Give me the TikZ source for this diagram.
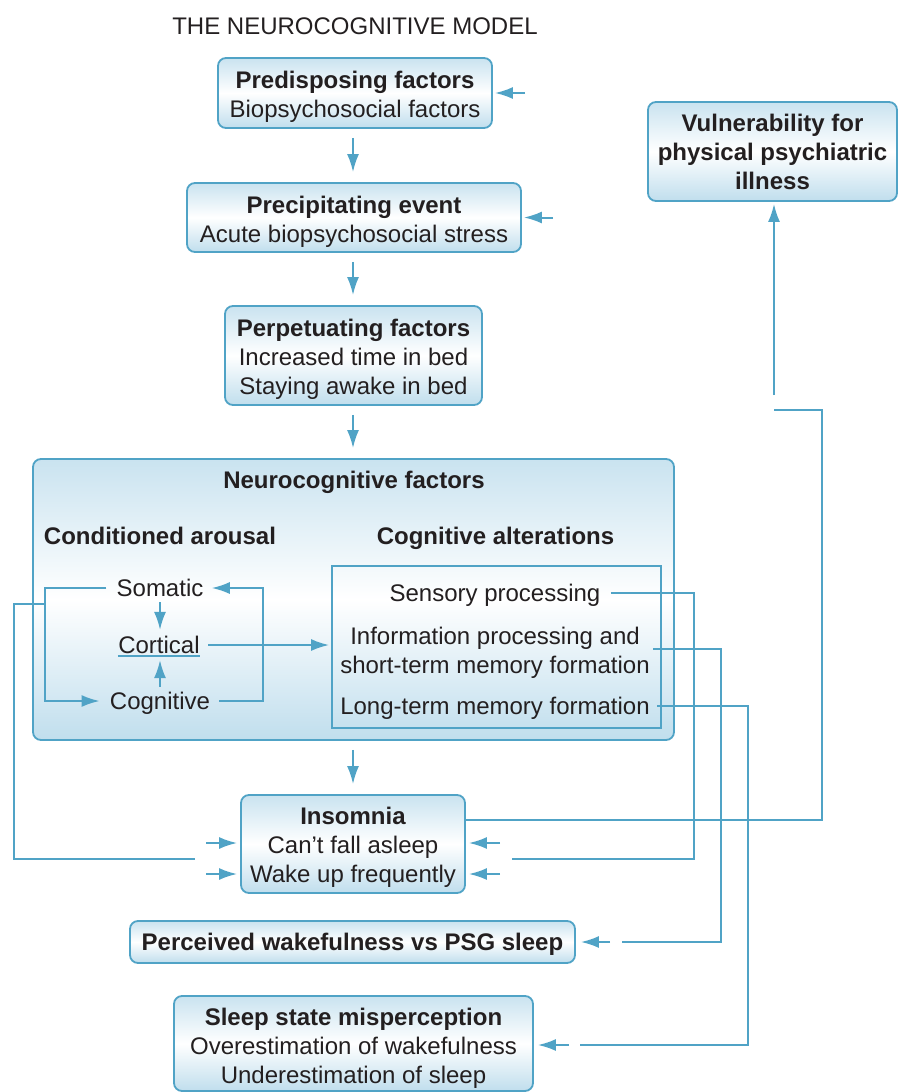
\documentclass[tikz,border=0pt]{standalone}
\usepackage{fontspec}
\setmainfont{Liberation Sans}
\usetikzlibrary{arrows.meta,positioning}
\definecolor{lineblue}{RGB}{80,163,198}
\definecolor{shadeblue}{RGB}{192,222,237}
\definecolor{ink}{RGB}{35,31,32}
\newcommand{\headstrut}[1][12.8pt]{\rule{0pt}{#1}}
\tikzset{
  box/.style={draw=lineblue, line width=0.9pt, rounded corners=4pt,
    top color=shadeblue!85, bottom color=shadeblue, middle color=white,
    align=center, inner sep=0pt},
  conn/.style={draw=lineblue, line width=1pt},
  arr/.style={conn, -{Latex[length=9pt,width=6pt]}},
  down/.style={arr, shorten <=4.5pt, shorten >=5pt},
  lbl/.style={inner sep=0pt, text height=9.5pt, text depth=1.2pt},
}
\begin{document}
\begin{tikzpicture}[x=0.5pt,y=-0.5pt,
  every node/.append style={font=\fontsize{12}{14.5}\selectfont, text=ink}]
\useasboundingbox (0,0) rectangle (898,1092);
\node (title) at (355,26) {THE NEUROCOGNITIVE MODEL};
% main chain
\node[box, minimum width=137pt, minimum height=35pt] (pre) at (355,93)
  {\headstrut\textbf{Predisposing factors}\\Biopsychosocial factors};
\node[box, minimum width=167pt, minimum height=34.5pt] (prec) at (354,217.5)
  {\headstrut\textbf{Precipitating event}\\Acute biopsychosocial stress};
\node[box, minimum width=128.5pt, minimum height=49.5pt] (perp) at (353.5,355.5)
  {\headstrut\textbf{Perpetuating factors}\\Increased time in bed\\Staying awake in bed};
\node[box, minimum width=320.5pt, minimum height=140.5pt] (neuro) at (353.5,599.5) {};
\node[box, minimum width=112pt, minimum height=49pt] (ins) at (353,844)
  {\headstrut[11.8pt]\textbf{Insomnia}\\Can’t fall asleep\\Wake up frequently};
\node[box, minimum width=222.5pt, minimum height=21pt] (perc) at (352.5,942)
  {\headstrut[10.8pt]\textbf{Perceived wakefulness vs PSG sleep}};
\node[box, minimum width=179.5pt, minimum height=47.5pt] (mis) at (353.5,1043.5)
  {\headstrut[13.8pt]\textbf{Sleep state misperception}\\Overestimation of wakefulness\\Underestimation of sleep};
\node[box, minimum width=124.5pt, minimum height=49.5pt] (vul) at (772.5,151.5)
  {\textbf{Vulnerability for}\\\textbf{physical psychiatric}\\\textbf{illness}};
% inside the neurocognitive box
\node[lbl] (neurot) at (354,480) {\textbf{Neurocognitive factors}};
\node[lbl] (arous) at (160,536) {\textbf{Conditioned arousal}};
\node[lbl] (alter) at (495.5,536) {\textbf{Cognitive alterations}};
\node[draw=lineblue, line width=0.9pt, minimum width=164.5pt, minimum height=81pt,
  inner sep=0pt] (alt) at (496.5,647) {};
\node[lbl] (som) at (160,588) {Somatic};
\node[lbl] (cort) at (159,645) {Cortical};
\node[lbl] (cog) at (160,701) {Cognitive};
\node[lbl] (sens) at (495,593) {Sensory processing};
\node[inner sep=0pt, align=center] (info) at (495,652.5)
  {Information processing and\\short-term memory formation};
\node[lbl] (long) at (495,706) {Long-term memory formation};
% inputs from the right
\coordinate (prein) at (525,93);
\coordinate (precin) at (553,217.5);
\draw[arr, shorten >=1pt] (prein) -- (pre.east);
\draw[arr, shorten >=1pt] (precin) -- (prec.east);
\foreach \a/\b in {pre/prec, prec/perp, perp/neuro, neuro/ins}
  \draw[down] (\a.south -| ins) -- (\b.north -| ins);
% arousal loop
\draw[arr, shorten <=5pt, shorten >=5pt] (som.west) -| (45,650) |- (cog.west);
\draw[arr, shorten <=4.5pt, shorten >=4pt] (cog.east) -| (263,650) |- (som.east);
\draw[arr, shorten <=1.5pt, shorten >=2pt] (som.south) -- (som.south |- cort.north);
\draw[arr, shorten <=1.5pt, shorten >=2pt] (cog.north) -- (cog.north |- cort.south);
\draw[conn] ([yshift=-1.5pt]cort.base west) -- ([yshift=-1.5pt]cort.base east);
\draw[arr, shorten <=4pt, shorten >=1pt] (cort.east) -- (cort.east -| alt.west);
% back to insomnia, left side
\coordinate (jl) at (45,604);
\coordinate (insl) at (195,859);
\draw[conn] (jl) -| (14,700) |- (insl);
\coordinate (l1) at (206,843);
\coordinate (l2) at (206,874);
\draw[arr, shorten >=1.5pt] (l1) -- (l1 -| ins.west);
\draw[arr, shorten >=1.5pt] (l2) -- (l2 -| ins.west);
% back to insomnia, right side
\coordinate (r1) at (500,843);
\coordinate (r2) at (500,874);
\draw[arr, shorten >=1.5pt] (r1) -- (r1 -| ins.east);
\draw[arr, shorten >=1.5pt] (r2) -- (r2 -| ins.east);
% cognitive alterations outputs
\coordinate (sensend) at (512,859);
\draw[conn, shorten <=5pt] (sens.east) -| (694,700) |- (sensend);
\coordinate (infoend) at (622,942);
\draw[conn, shorten <=1.5pt] ([yshift=2pt]info.east) -| (721,800) |- (infoend);
\coordinate (percin) at (610,942);
\draw[arr, shorten >=2.5pt] (percin) -- (perc.east);
\coordinate (longend) at (580,1045);
\draw[conn, shorten <=3.5pt] (long.east) -| (748,900) |- (longend);
\coordinate (misin) at (569,1045);
\draw[arr, shorten >=2pt] (misin) -- (misin -| mis.east);
% insomnia to vulnerability
\coordinate (vulgap) at (774,410);
\draw[conn] ([yshift=12pt]ins.east) -| (822,600) |- (vulgap);
\coordinate (vulin) at (774,395);
\draw[arr, shorten >=1pt] (vulin) -- (vulin |- vul.south);
\end{tikzpicture}
\end{document}
